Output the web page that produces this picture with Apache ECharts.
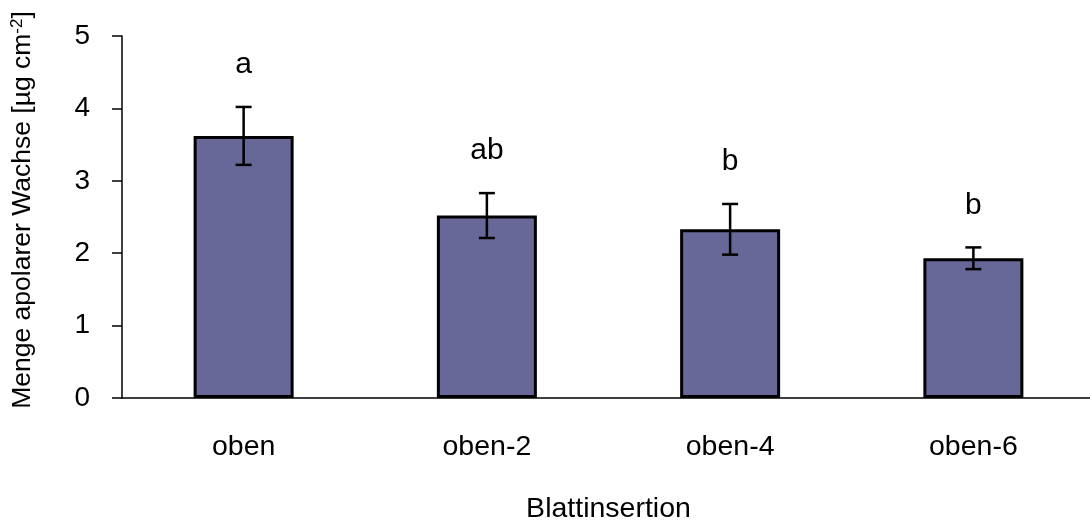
<!DOCTYPE html>
<html><head><meta charset="utf-8">
<script src="https://cdn.jsdelivr.net/npm/echarts@6/dist/echarts.min.js"></script>
<style>html,body{margin:0;padding:0;background:#fff}#c{width:1090px;height:522px}</style>
</head><body><div id="c"></div>
<script>
const categories = ['oben', 'oben-2', 'oben-4', 'oben-6'];
const means = [3.62, 2.52, 2.33, 1.93];
const errors = [0.40, 0.31, 0.35, 0.15];
const letters = ['a', 'ab', 'b', 'b'];
const yTicks = [0, 1, 2, 3, 4, 5];

const FONT = '"Liberation Sans", Arial, sans-serif';
const chart = echarts.init(document.getElementById('c'));
const errData = categories.map((c, i) => [i, means[i] - errors[i], means[i] + errors[i], letters[i]]);

chart.setOption({
  animation: false,
  grid: { left: 122, top: 36, width: 973, height: 362, containLabel: false, outerBoundsMode: 'none' },
  xAxis: {
    type: 'category', data: categories,
    name: 'Blattinsertion', nameLocation: 'middle', nameGap: 97,
    nameTextStyle: { fontFamily: FONT, fontSize: 28.5, color: '#000' },
    axisLine: { lineStyle: { color: '#000', width: 1.5 } },
    axisTick: { show: false },
    axisLabel: { fontFamily: FONT, fontSize: 28.5, color: '#000', margin: 35 }
  },
  yAxis: {
    type: 'value', min: yTicks[0], max: yTicks[yTicks.length - 1], interval: 1,
    name: '{a|Menge apolarer Wachse [µg cm}{s|-2}{a|]}', nameLocation: 'middle', nameGap: 86,
    nameTextStyle: { fontFamily: FONT, color: '#000', padding: [0, 0, 0, 14],
      rich: { a: { fontFamily: FONT, fontSize: 26.5, color: '#000' },
              s: { fontFamily: FONT, fontSize: 17, color: '#000', verticalAlign: 'top', padding: [0, 0, 8, 0] } } },
    axisLine: { show: true, lineStyle: { color: '#000', width: 1.5 } },
    axisTick: { show: true, inside: false, length: 10, lineStyle: { color: '#000', width: 1.5 } },
    splitLine: { show: false },
    axisLabel: { fontFamily: FONT, fontSize: 28, color: '#000', margin: 32 }
  },
  series: [
    {
      type: 'bar', data: means, barWidth: 100,
      itemStyle: { color: '#686898', borderColor: '#000', borderWidth: 3 }
    },
    {
      type: 'custom', data: errData, z: 10,
      renderItem: function (params, api) {
        const x = api.value(0);
        const lo = api.coord([x, api.value(1)]);
        const hi = api.coord([x, api.value(2)]);
        const cap = 8;
        const st = { stroke: '#000', lineWidth: 2.5 };
        return {
          type: 'group', children: [
            { type: 'line', shape: { x1: hi[0], y1: hi[1], x2: lo[0], y2: lo[1] }, style: st },
            { type: 'line', shape: { x1: hi[0] - cap, y1: hi[1], x2: hi[0] + cap, y2: hi[1] }, style: st },
            { type: 'line', shape: { x1: lo[0] - cap, y1: lo[1], x2: lo[0] + cap, y2: lo[1] }, style: st },
            { type: 'text', style: { text: api.value(3), x: hi[0], y: hi[1] - 42, align: 'center', verticalAlign: 'middle',
                fontFamily: FONT, fontSize: 30, fill: '#000' } }
          ]
        };
      }
    }
  ]
});
</script></body></html>
